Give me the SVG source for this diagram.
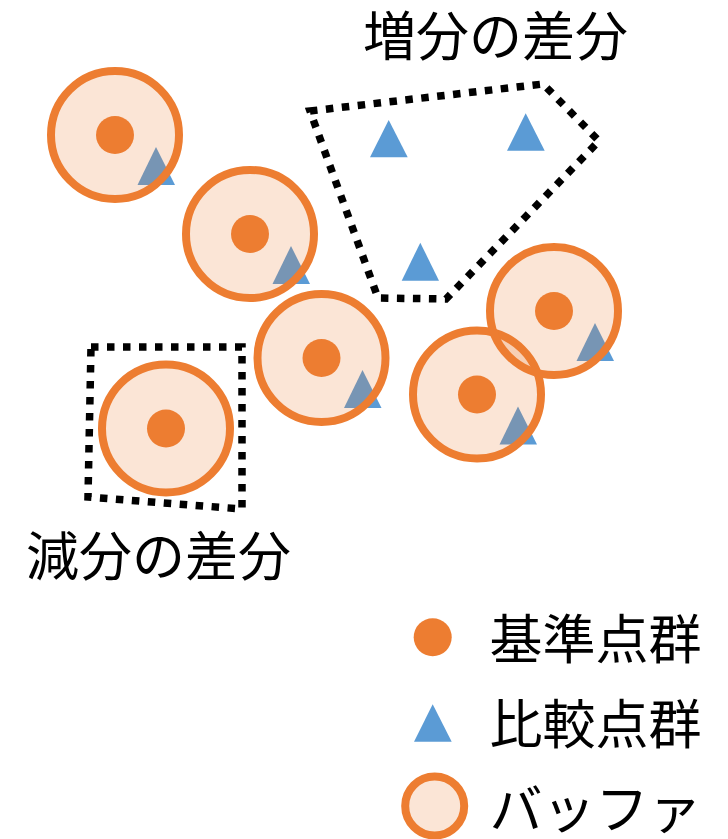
<svg xmlns="http://www.w3.org/2000/svg" width="728" height="839" viewBox="0 0 728 839">
<style>
.tri{fill:#5B9BD5}
.buf{fill:#ED7D31;fill-opacity:0.2;stroke:#ED7D31;stroke-width:8}
.dot{fill:#ED7D31}
.dash{fill:none;stroke:#000;stroke-width:7.5;stroke-dasharray:7.5 8.5;stroke-linejoin:miter}
.lbl{font-family:"Noto Sans CJK JP","Noto Sans",sans-serif;font-size:53px;fill:#000}
</style>
<defs>
<path id="t" d="M41,12 L60,50 L22.5,50 Z"/>
</defs>
<g id="diff-increase">
<polygon class="dash" points="310,111 543,84 599,141 446,299 378,298"/>
<polygon class="tri" points="388.7,120 407.7,157.3 370,157.3"/>
<polygon class="tri" points="525.7,113.3 544.7,150.7 507,150.7"/>
<polygon class="tri" points="420.3,242.7 439,280.7 401.7,280.7"/>
<text class="lbl" x="363" y="55.5">増分の差分</text>
</g>
<g id="diff-decrease">
<polygon class="dash" points="91,347 242,347 242,509 88,497"/>
<text class="lbl" x="26" y="575.5">減分の差分</text>
</g>
<g id="buffer1" transform="translate(115,135)">
<use href="#t" class="tri"/><circle class="buf" r="64"/><circle class="dot" r="19"/>
</g>
<g id="buffer2" transform="translate(250,234)">
<use href="#t" class="tri"/><circle class="buf" r="64"/><circle class="dot" r="19"/>
</g>
<g id="buffer3" transform="translate(321.5,358)">
<use href="#t" class="tri"/><circle class="buf" r="64"/><circle class="dot" r="19"/>
</g>
<g id="buffer4" transform="translate(166,428.5)">
<circle class="buf" r="64"/><circle class="dot" r="19"/>
</g>
<g id="buffer5" transform="translate(477,394.5)">
<use href="#t" class="tri"/><circle class="buf" r="64"/><circle class="dot" r="19"/>
</g>
<g id="buffer6" transform="translate(554,311)">
<use href="#t" class="tri"/><circle class="buf" r="64"/><circle class="dot" r="19"/>
</g>
<g id="legend-reference">
<circle class="dot" cx="432.7" cy="637.3" r="19"/>
<text class="lbl" x="489.5" y="659">基準点群</text>
</g>
<g id="legend-compare">
<polygon class="tri" points="432.7,704.3 451.7,741.7 414,741.7"/>
<text class="lbl" x="489.5" y="744">比較点群</text>
</g>
<g id="legend-buffer">
<circle class="buf" cx="434.7" cy="806" r="29.5"/>
<text class="lbl" x="489.5" y="829">バッファ</text>
</g>
<g id="connectors"/>
</svg>
